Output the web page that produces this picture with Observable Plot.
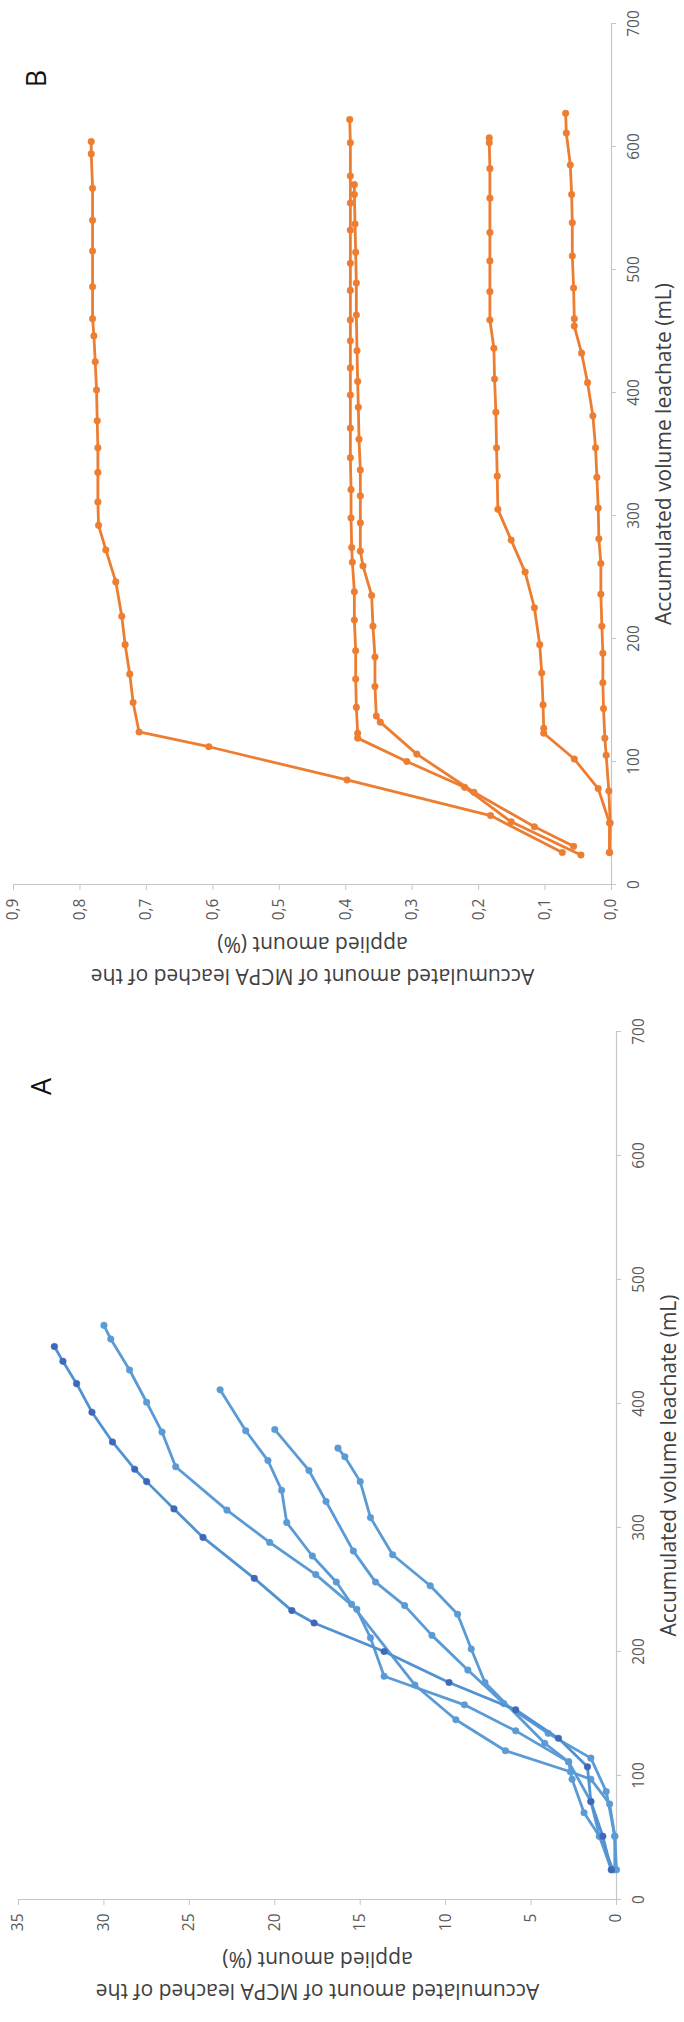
<!DOCTYPE html>
<html>
<head>
<meta charset="utf-8">
<script src="https://cdn.jsdelivr.net/npm/d3@7"></script>
<script src="https://cdn.jsdelivr.net/npm/@observablehq/plot@0.6"></script>
<style>
  html, body { margin: 0; padding: 0; background: #fff; }
  body { width: 684px; height: 2022px; overflow: hidden; position: relative; }
  #fig { position: absolute; left: 0; top: 0; width: 2022px; height: 684px;
         transform-origin: 0 0; transform: translate(0px, 2022px) rotate(-90deg); }
</style>
</head>
<body>
<div id="fig"></div>
<script>
// ---------- shared labels / ticks ----------
const volTicks = [0, 100, 200, 300, 400, 500, 600, 700];
const pctTicksA = [0, 5, 10, 15, 20, 25, 30, 35];
const pctTicksB = [0, 0.1, 0.2, 0.3, 0.4, 0.5, 0.6, 0.7, 0.8, 0.9];
const pctLabelsB = ["0,0", "0,1", "0,2", "0,3", "0,4", "0,5", "0,6", "0,7", "0,8", "0,9"];
const xTitle = "Accumulated volume leachate (mL)";
const yTitle1 = "Accumulated amount of MCPA leached of the";
const yTitle2 = "applied amount (%)";

// ---------- Panel A (five columns) ----------
const A1_vol = [24, 51, 79, 107, 130, 153, 175, 200, 223, 233, 259, 292, 315, 337, 347, 369, 393, 416, 434, 446];
const A1_pct = [0.3, 0.8, 1.5, 1.7, 3.4, 5.9, 9.8, 13.6, 17.7, 19.0, 21.2, 24.2, 25.9, 27.5, 28.2, 29.5, 30.7, 31.6, 32.4, 32.9];
const A2_vol = [24, 51, 70, 97, 111, 136, 157, 180, 211, 234, 262, 288, 314, 349, 377, 401, 427, 452, 463];
const A2_pct = [0.2, 1.0, 1.9, 2.6, 2.8, 5.9, 8.9, 13.6, 14.4, 15.2, 17.6, 20.3, 22.8, 25.8, 26.6, 27.5, 28.5, 29.6, 30.0];
const A3_vol = [24, 51, 77, 97, 103, 120, 145, 173, 238, 256, 277, 304, 330, 354, 378, 411];
const A3_pct = [0.0, 0.1, 0.4, 1.5, 2.7, 6.5, 9.4, 11.8, 15.5, 16.4, 17.8, 19.3, 19.6, 20.4, 21.7, 23.2];
const A4_vol = [24, 51, 87, 114, 134, 158, 185, 213, 237, 256, 281, 321, 346, 379];
const A4_pct = [0.1, 0.1, 0.6, 1.5, 4.0, 6.6, 8.7, 10.8, 12.4, 14.1, 15.4, 17.0, 18.0, 20.0];
const A5_vol = [24, 51, 79, 111, 126, 175, 202, 230, 253, 278, 308, 337, 357, 364];
const A5_pct = [0.3, 1.0, 1.5, 2.8, 4.2, 7.7, 8.5, 9.3, 10.9, 13.1, 14.4, 15.0, 15.9, 16.3];

// ---------- Panel B (five columns) ----------
const B1_vol = [26, 56, 85, 112, 124, 148, 171, 195, 218, 246, 272, 292, 311, 335, 355, 377, 402, 425, 446, 460, 486, 515, 540, 566, 594, 604];
const B1_pct = [0.074, 0.182, 0.398, 0.606, 0.711, 0.720, 0.725, 0.732, 0.737, 0.746, 0.761, 0.772, 0.773, 0.773, 0.773, 0.774, 0.775, 0.777, 0.779, 0.781, 0.781, 0.781, 0.781, 0.781, 0.783, 0.783];
const B2_vol = [24, 51, 79, 100, 119, 123, 144, 167, 190, 215, 238, 262, 274, 298, 321, 347, 371, 398, 420, 442, 459, 483, 505, 532, 554, 576, 603, 622];
const B2_pct = [0.046, 0.151, 0.221, 0.308, 0.382, 0.382, 0.384, 0.385, 0.385, 0.387, 0.387, 0.390, 0.391, 0.392, 0.392, 0.393, 0.393, 0.393, 0.393, 0.393, 0.393, 0.393, 0.393, 0.393, 0.393, 0.393, 0.393, 0.394];
const B3_vol = [31, 47, 75, 106, 132, 137, 161, 185, 210, 235, 259, 271, 294, 316, 337, 362, 388, 409, 434, 463, 489, 514, 537, 561, 569];
const B3_pct = [0.057, 0.116, 0.207, 0.293, 0.348, 0.354, 0.356, 0.356, 0.359, 0.361, 0.374, 0.378, 0.378, 0.378, 0.378, 0.380, 0.381, 0.382, 0.383, 0.384, 0.384, 0.385, 0.386, 0.387, 0.387];
const B4_vol = [26, 50, 78, 102, 123, 127, 146, 172, 195, 225, 254, 280, 305, 332, 355, 384, 411, 436, 459, 482, 507, 530, 558, 582, 603, 607];
const B4_pct = [0.003, 0.003, 0.020, 0.056, 0.102, 0.102, 0.103, 0.105, 0.108, 0.116, 0.130, 0.151, 0.171, 0.172, 0.173, 0.174, 0.176, 0.177, 0.183, 0.183, 0.183, 0.183, 0.183, 0.183, 0.184, 0.184];
const B5_vol = [26, 50, 76, 105, 119, 143, 164, 188, 210, 236, 261, 281, 306, 331, 355, 381, 408, 432, 454, 460, 485, 511, 538, 561, 585, 611, 627];
const B5_pct = [0.003, 0.002, 0.004, 0.008, 0.010, 0.012, 0.013, 0.013, 0.0145, 0.016, 0.016, 0.019, 0.020, 0.022, 0.024, 0.028, 0.036, 0.045, 0.056, 0.056, 0.057, 0.059, 0.059, 0.060, 0.062, 0.068, 0.069];

// ---------- colours ----------
const blueLine = "#5b9bd5", blueDark = "#3e68b8", blueDarkLine = "#5192d2";
const orange = "#ed7d31";
const axisGrey = "#c6c6c6", textGrey = "#595959";

function toRows(vol, pct) { return vol.map((v, i) => ({vol: v, pct: pct[i]})); }

function seriesMarks(vol, pct, line, dot) {
  const rows = toRows(vol, pct);
  return [
    Plot.line(rows, {x: "vol", y: "pct", stroke: line, strokeWidth: 2.8, strokeLinejoin: "round"}),
    Plot.dot(rows, {x: "vol", y: "pct", r: 3.3, fill: dot, stroke: dot, strokeWidth: 0.5})
  ];
}

function panel({width, mLeft, mRight, yDomain, yTicks, yFormat, series, letter}) {
  return Plot.plot({
    width, height: 684,
    marginLeft: mLeft, marginRight: mRight, marginTop: 15, marginBottom: 71,
    style: {fontFamily: "'Open Sans', sans-serif", fontSize: "15px", color: textGrey, background: "transparent", overflow: "visible"},
    x: {domain: [0, 700]},
    y: {domain: yDomain},
    marks: [
      Plot.ruleY([0], {stroke: axisGrey, strokeWidth: 1.2}),
      Plot.ruleX([0], {stroke: axisGrey, strokeWidth: 1.2}),
      Plot.axisX({ticks: volTicks, tickSize: 5, tickPadding: 11, stroke: axisGrey, fill: textGrey, fontSize: 15.5, label: null}),
      Plot.axisY({ticks: yTicks, tickSize: 5, tickPadding: 9, tickFormat: yFormat, stroke: axisGrey, fill: textGrey, fontSize: 15.5, label: null}),
      ...series,
      Plot.text([xTitle], {frameAnchor: "bottom", dy: 53, fontSize: 21, fill: "#404040", textAnchor: "middle", lineAnchor: "middle"}),
      Plot.text([yTitle1], {frameAnchor: "left", dx: -91, rotate: -90, fontSize: 21, fill: "#404040", textAnchor: "middle", lineAnchor: "middle"}),
      Plot.text([yTitle2], {frameAnchor: "left", dx: -59, rotate: -90, fontSize: 21, fill: "#404040", textAnchor: "middle", lineAnchor: "middle"}),
      Plot.text([letter], {frameAnchor: "top-right", dx: -55, dy: 24, fontSize: 27, fill: "#111", textAnchor: "middle", lineAnchor: "middle"})
    ]
  });
}

const fig = document.getElementById("fig");

const plotA = panel({
  width: 1000, mLeft: 122, mRight: 10,
  yDomain: [0, 35], yTicks: pctTicksA, yFormat: d => String(d),
  letter: "A",
  series: [
    ...seriesMarks(A2_vol, A2_pct, blueLine, blueLine),
    ...seriesMarks(A3_vol, A3_pct, blueLine, blueLine),
    ...seriesMarks(A4_vol, A4_pct, blueLine, blueLine),
    ...seriesMarks(A5_vol, A5_pct, blueLine, blueLine),
    ...seriesMarks(A1_vol, A1_pct, blueDarkLine, blueDark)
  ]
});
plotA.style.position = "absolute"; plotA.style.left = "0px"; plotA.style.top = "3px";
fig.appendChild(plotA);

const plotB = panel({
  width: 1022, mLeft: 137, mRight: 24,
  yDomain: [0, 0.9], yTicks: pctTicksB, yFormat: d => pctLabelsB[Math.round(d * 10)],
  letter: "B",
  series: [
    ...seriesMarks(B1_vol, B1_pct, orange, orange),
    ...seriesMarks(B2_vol, B2_pct, orange, orange),
    ...seriesMarks(B3_vol, B3_pct, orange, orange),
    ...seriesMarks(B4_vol, B4_pct, orange, orange),
    ...seriesMarks(B5_vol, B5_pct, orange, orange)
  ]
});
plotB.style.position = "absolute"; plotB.style.left = "1000px"; plotB.style.top = "-2px";
fig.appendChild(plotB);
</script>
</body>
</html>
